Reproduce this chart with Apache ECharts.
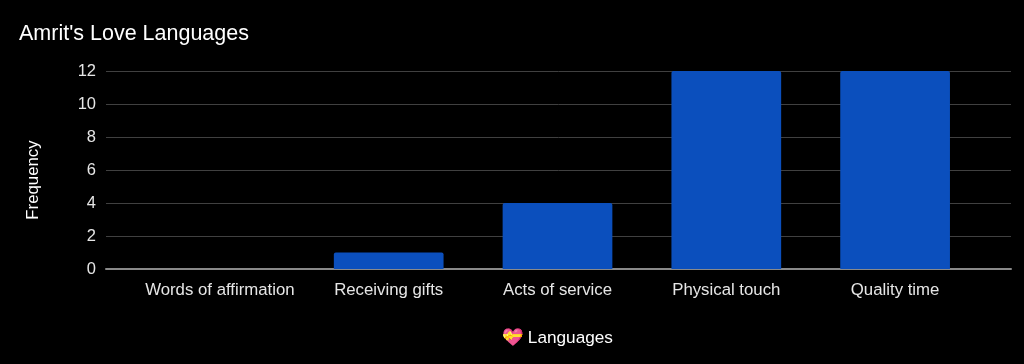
<!DOCTYPE html>
<html>
<head>
<meta charset="utf-8">
<style>
  html, body { margin: 0; padding: 0; background: #000; }
  #chart { width: 1024px; height: 364px; }
</style>
<script src="https://cdn.jsdelivr.net/npm/echarts@6/dist/echarts.min.js"></script>
</head>
<body>
<div id="chart"></div>
<script>
const categories = ['Words of affirmation', 'Receiving gifts', 'Acts of service', 'Physical touch', 'Quality time']
const frequency = [0, 1, 4, 12, 12]
const chartTitle = "Amrit's Love Languages"
const xAxisName = '💝 Languages'
const yAxisName = 'Frequency'

const font = '"Liberation Sans", Arial, sans-serif'
const chart = echarts.init(document.getElementById('chart'), null, { renderer: 'canvas' })

chart.setOption({
  backgroundColor: '#000',
  animation: false,
  textStyle: { fontFamily: font },
  title: {
    text: chartTitle,
    left: 14,
    top: 18,
    textStyle: { color: '#fff', fontSize: 21.5, fontWeight: 'normal', fontFamily: font }
  },
  // grid 0 carries the long gridlines, grid 1 the inset categories
  grid: [
    { left: 106, right: 13, top: 71, bottom: 95 },
    { left: 135.5, right: 44.5, top: 71, bottom: 95 }
  ],
  xAxis: [
    {
      type: 'category',
      gridIndex: 0,
      data: [''],
      axisLine: { show: true, lineStyle: { color: '#8a8a8a', width: 2 } },
      axisTick: { show: false },
      axisLabel: { show: false }
    },
    {
      type: 'category',
      gridIndex: 1,
      data: categories,
      name: xAxisName,
      nameLocation: 'middle',
      nameGap: 61,
      nameTextStyle: { color: '#fff', fontSize: 17.2, fontFamily: font },
      axisLine: { show: false },
      axisTick: { show: false },
      axisLabel: { color: '#e6e6e6', fontSize: 16.8, margin: 13, interval: 0, fontFamily: font }
    }
  ],
  yAxis: [
    {
      type: 'value',
      gridIndex: 0,
      min: 0,
      max: 12,
      interval: 2,
      name: yAxisName,
      nameLocation: 'middle',
      nameGap: 64,
      nameTextStyle: { color: '#fff', fontSize: 16.8, fontFamily: font, padding: [0, 20, 0, 0] },
      axisLine: { show: false },
      axisTick: { show: false },
      axisLabel: { color: '#e6e6e6', fontSize: 16.5, margin: 10, verticalAlign: 'middle', padding: [5, 0, 0, 0], fontFamily: font },
      splitLine: { lineStyle: { color: '#404040', width: 1 } }
    },
    {
      type: 'value',
      gridIndex: 1,
      min: 0,
      max: 12,
      interval: 2,
      axisLine: { show: false },
      axisTick: { show: false },
      axisLabel: { show: false },
      splitLine: { show: false }
    }
  ],
  series: [
    {
      type: 'bar',
      xAxisIndex: 1,
      yAxisIndex: 1,
      data: frequency,
      barWidth: '65%',
      z: 5,
      itemStyle: { color: '#0b4fbd', borderRadius: [2, 2, 0, 0] }
    }
  ]
})
</script>
</body>
</html>
